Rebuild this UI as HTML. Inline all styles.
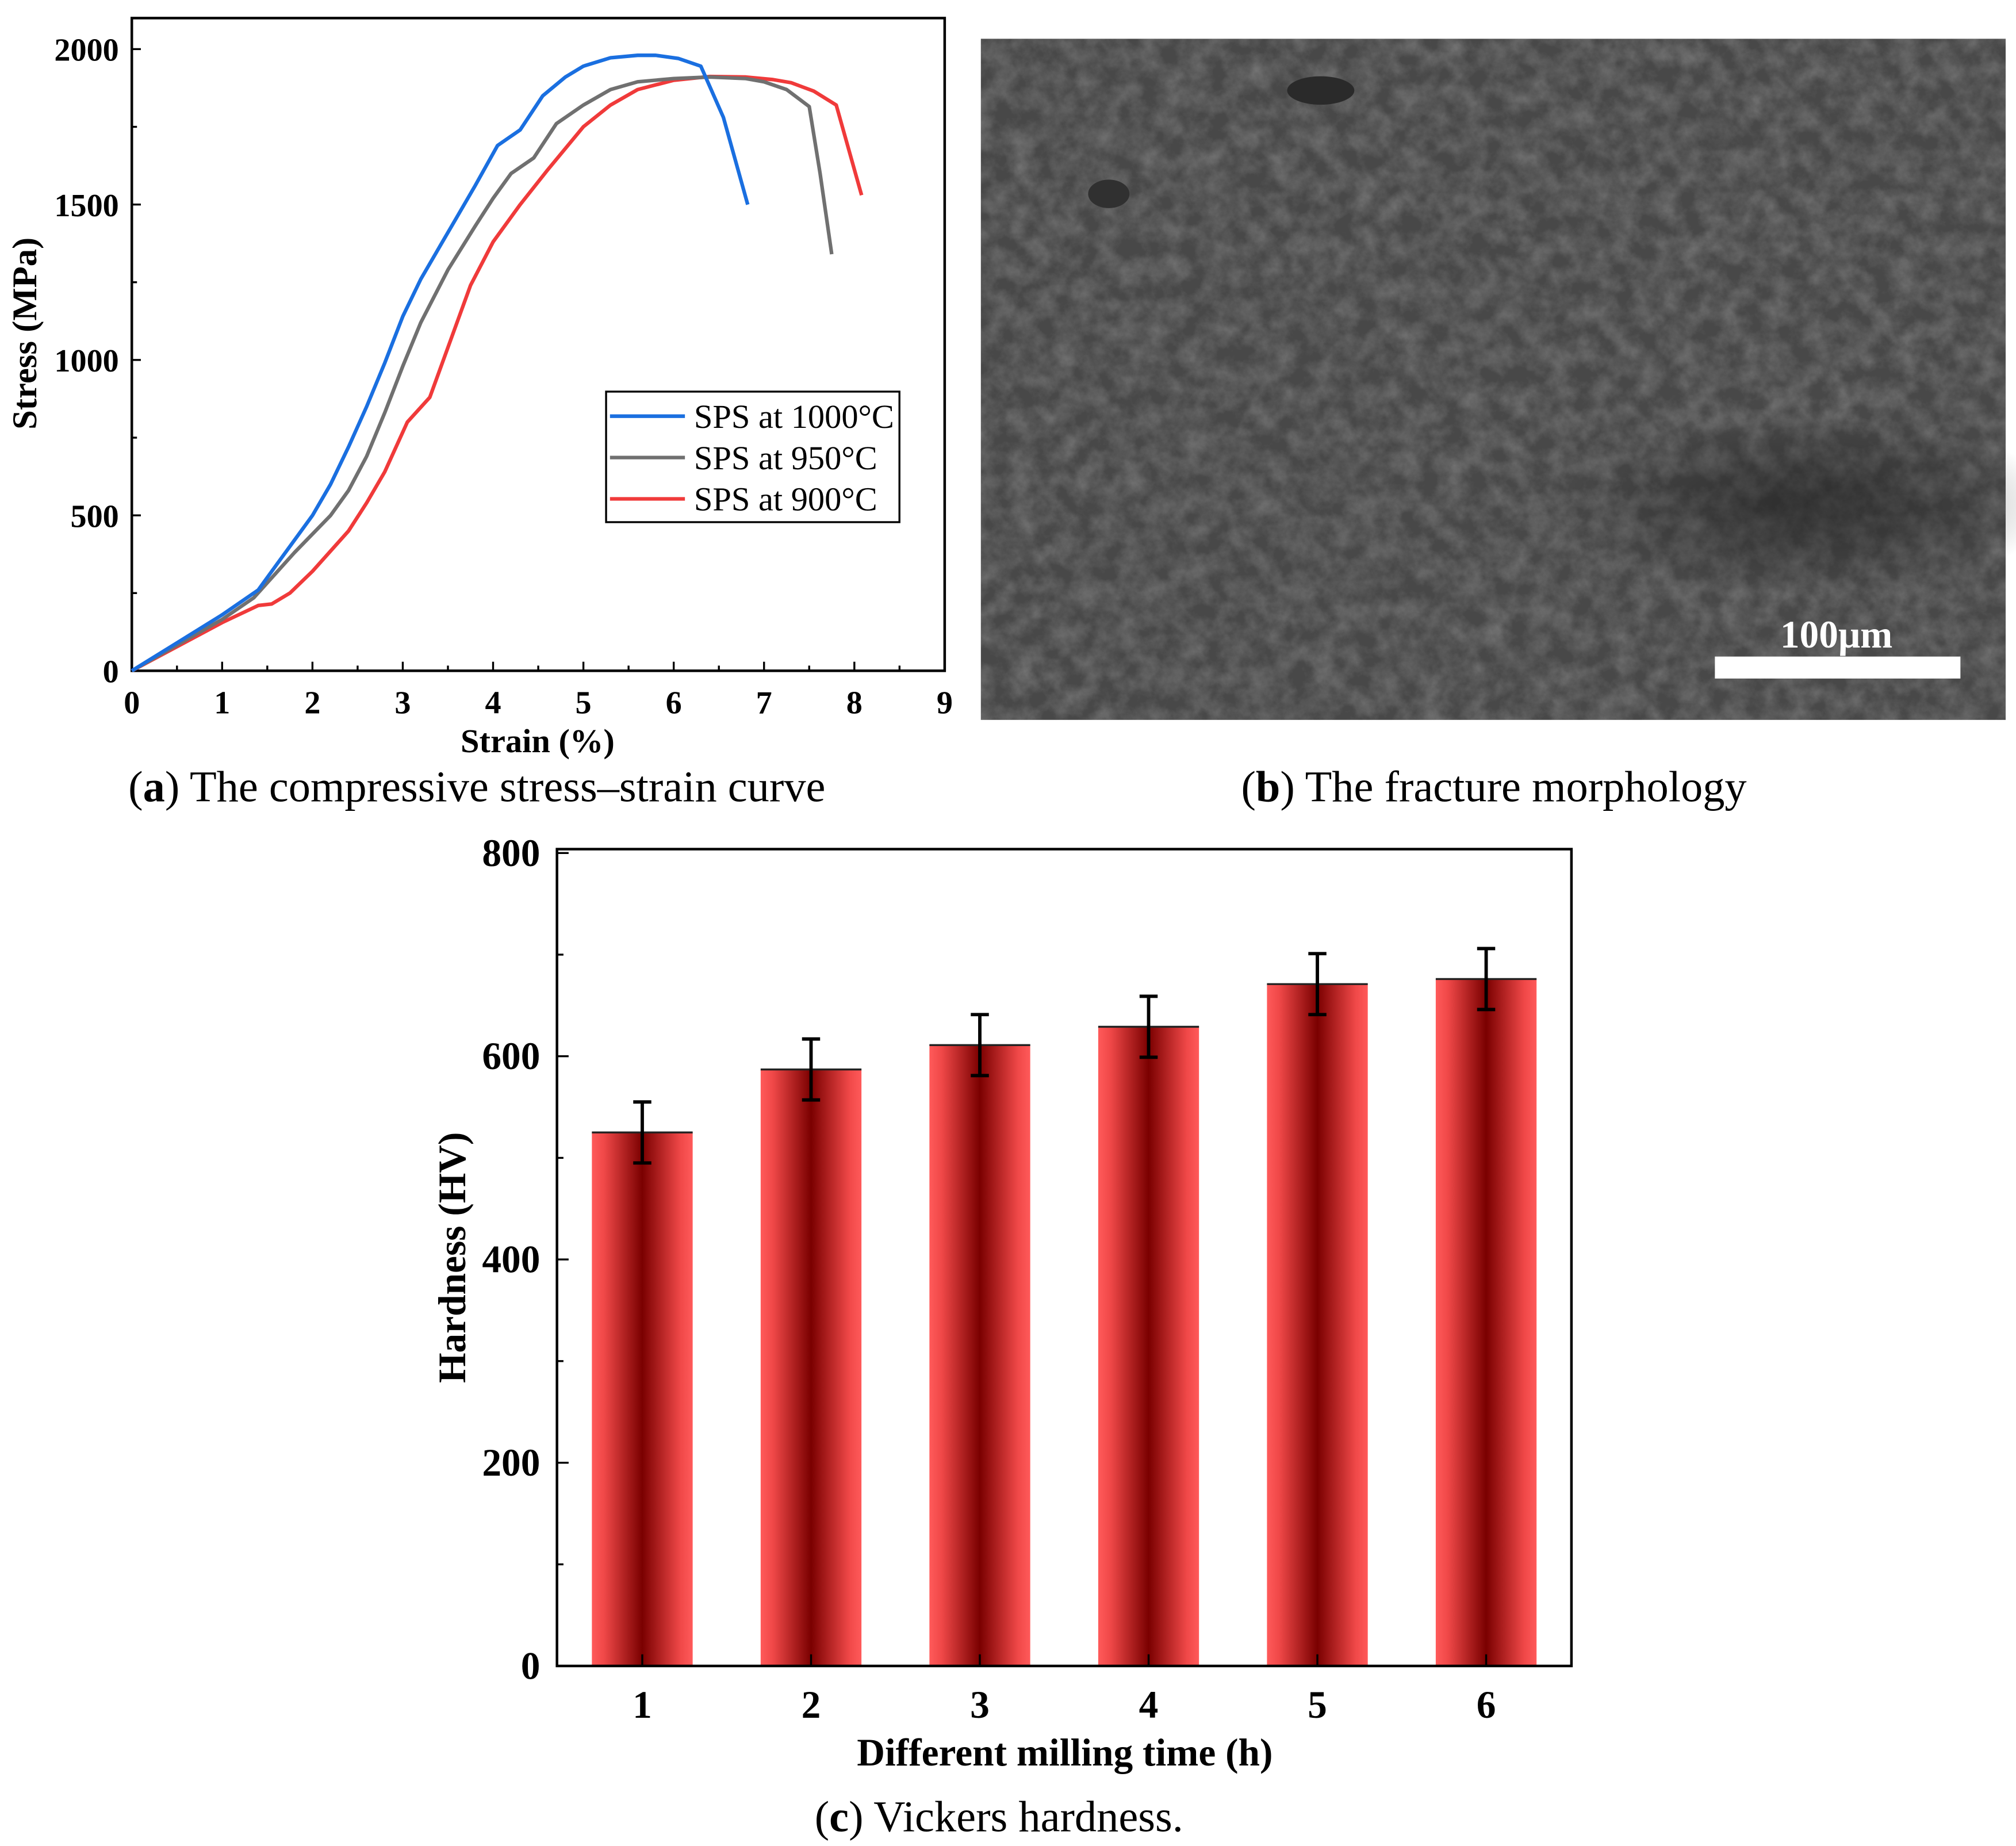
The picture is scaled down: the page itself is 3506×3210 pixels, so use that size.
<!DOCTYPE html>
<html><head><meta charset="utf-8"><style>
html,body{margin:0;padding:0;background:#fff}
svg{display:block}
text{font-family:"Liberation Serif",serif}
</style></head><body>
<svg id="root" width="3506" height="3210" viewBox="0 0 1560 1428.3">
<defs>
<linearGradient id="barg" x1="0" x2="1" y1="0" y2="0">
<stop offset="0" stop-color="#ff5a5a"/><stop offset="0.12" stop-color="#f04848"/><stop offset="0.5" stop-color="#7a0000"/><stop offset="0.88" stop-color="#f04848"/><stop offset="1" stop-color="#ff5a5a"/>
</linearGradient>
<filter id="sem" x="0" y="0" width="1" height="1">
<feTurbulence type="fractalNoise" baseFrequency="0.06" numOctaves="5" seed="7"/>
<feColorMatrix type="matrix" values="0 0 0 0 0.6  0 0 0 0 0.6  0 0 0 0 0.6  0.5 0 0 0 -0.15"/>
</filter>
<radialGradient id="dark" cx="0.5" cy="0.5" r="0.5"><stop offset="0" stop-color="#1a1a1a" stop-opacity="0.6"/><stop offset="1" stop-color="#1a1a1a" stop-opacity="0"/></radialGradient>
</defs>

<g id="pa"></g>
<text x="369" y="620" font-size="34" text-anchor="middle">(<tspan font-weight="bold">a</tspan>) The compressive stress–strain curve</text>

<g>
<rect x="759" y="30" width="793" height="527" fill="#484848"/>
<rect x="759" y="30" width="793" height="527" filter="url(#sem)"/>
<ellipse cx="1400" cy="390" rx="190" ry="70" fill="url(#dark)"/>
<ellipse cx="1022" cy="70" rx="26" ry="11" fill="#2a2a2a"/>
<ellipse cx="858" cy="150" rx="16" ry="11" fill="#303030"/>
<rect x="1327" y="508" width="190" height="17" fill="#fff"/>
<text x="1421" y="501" font-size="30" font-weight="bold" fill="#fff" text-anchor="middle">100μm</text>
</g>
<text x="1156" y="620" font-size="34" text-anchor="middle">(<tspan font-weight="bold">b</tspan>) The fracture morphology</text>

<g id="pc"></g>
<text x="773" y="1417" font-size="34" text-anchor="middle">(<tspan font-weight="bold">c</tspan>) Vickers hardness.</text>
</svg>
<script>
const NS="http://www.w3.org/2000/svg";
function mk(p,tag,at,txt){const e=document.createElementNS(NS,tag);for(const k in at)e.setAttribute(k,at[k]);if(txt!=null)e.textContent=txt;p.appendChild(e);return e;}

const xTicksA=[0,1,2,3,4,5,6,7,8,9];
const yTicksA=[0,500,1000,1500,2000];
const seriesNames=["SPS at 1000°C","SPS at 950°C","SPS at 900°C"];
const seriesColors=["#1a6fe0","#707070","#f03a3a"];
const strain1000=[0,0.5,1,1.4,1.6,2,2.2,2.4,2.6,2.8,3,3.2,3.4,3.6,3.8,4.05,4.3,4.55,4.8,5,5.3,5.6,5.8,6.05,6.3,6.55,6.82];
const stress1000=[0,90,180,260,340,500,600,720,850,990,1140,1260,1360,1460,1560,1690,1740,1850,1910,1945,1972,1980,1980,1970,1945,1780,1500];
const strain950=[0,1,1.35,1.8,2.2,2.4,2.6,2.8,3,3.2,3.5,3.8,4,4.2,4.45,4.7,5,5.3,5.6,6,6.4,6.8,7,7.25,7.5,7.62,7.75];
const stress950=[0,165,235,380,500,580,690,830,980,1120,1290,1430,1520,1600,1650,1760,1820,1870,1895,1905,1910,1905,1895,1870,1815,1600,1340];
const strain900=[0,1,1.4,1.55,1.75,2,2.4,2.6,2.8,3.05,3.3,3.5,3.75,4,4.3,4.6,5,5.3,5.6,6,6.4,6.8,7.1,7.3,7.55,7.8,8.08];
const stress900=[0,155,210,215,250,320,450,540,640,800,880,1040,1240,1380,1500,1610,1750,1820,1870,1900,1912,1910,1902,1892,1865,1820,1530];

const pa=document.getElementById('pa');
const AX0=102,AX1=731,AY0=519,AY1=14;
const ax=v=>AX0+v/9*(AX1-AX0);
const ay=v=>AY0-v/2000*(519-38);
mk(pa,'rect',{x:AX0,y:AY1,width:AX1-AX0,height:AY0-AY1,fill:'none',stroke:'#000','stroke-width':2});
for(let v=0;v<=9;v+=0.5){mk(pa,'line',{x1:ax(v),x2:ax(v),y1:AY0,y2:AY0-(v%1?4:7),stroke:'#000','stroke-width':1.5});}
xTicksA.forEach(v=>{const t=mk(pa,'text',{x:ax(v),y:552,'font-size':25,'font-weight':'bold','text-anchor':'middle'},v);

});
for(let v=0;v<=2000;v+=250){mk(pa,'line',{x1:AX0,x2:AX0+(v%500?4:7),y1:ay(v),y2:ay(v),stroke:'#000','stroke-width':1.5});}
yTicksA.forEach(v=>{const t=mk(pa,'text',{x:92,y:ay(v)+9,'font-size':25,'font-weight':'bold','text-anchor':'end'},v);

});
let tt=mk(pa,'text',{x:416,y:582,'font-size':26,'font-weight':'bold','text-anchor':'middle'},'Strain (%)');


tt=mk(pa,'text',{x:0,y:0,'font-size':27,'font-weight':'bold','text-anchor':'middle',transform:'translate(28,258) rotate(-90)'},'Stress (MPa)');


const sx=[strain1000,strain950,strain900],sy=[stress1000,stress950,stress900],keys=['1000','950','900'];
[2,1,0].forEach(i=>{const d=sx[i].map((x,j)=>(j?'L':'M')+ax(x).toFixed(1)+','+ay(sy[i][j]).toFixed(1)).join('');
const p=mk(pa,'path',{d:d,fill:'none',stroke:seriesColors[i],'stroke-width':2.8,'stroke-linejoin':'round'});

});
const lg=mk(pa,'g',{});


mk(lg,'rect',{x:469,y:303,width:227,height:101,fill:'#fff',stroke:'#000','stroke-width':1.5});
seriesNames.forEach((n,i)=>{const y=322+i*32;
mk(lg,'line',{x1:472,x2:530,y1:y,y2:y,stroke:seriesColors[i],'stroke-width':2.8});
const t=mk(lg,'text',{x:537,y:y+9,'font-size':26},n);

});

const categories=["1","2","3","4","5","6"];
const hardness=[525,587,611,629,671,676];
const hardnessErr=[30,30,30,30,30,30];
const yTicksC=[0,200,400,600,800];

const pc=document.getElementById('pc');
const CX0=431,CX1=1216,CY0=1289,CY1=657;
const cy=v=>CY0-v/800*(1289-660);
const cx=i=>497+i*130.6;
const BW=78;
hardness.forEach((v,i)=>{const r=mk(pc,'rect',{x:cx(i)-BW/2,y:cy(v),width:BW,height:CY0-cy(v),fill:'url(#barg)'});


mk(pc,'line',{x1:cx(i)-BW/2,x2:cx(i)+BW/2,y1:cy(v),y2:cy(v),stroke:'#222','stroke-width':1.5});
const e=mk(pc,'path',{d:`M${cx(i)},${cy(v+hardnessErr[i])}V${cy(v-hardnessErr[i])}M${cx(i)-7},${cy(v+hardnessErr[i])}h14M${cx(i)-7},${cy(v-hardnessErr[i])}h14`,stroke:'#000','stroke-width':2.6,fill:'none'});

});
mk(pc,'rect',{x:CX0,y:CY1,width:CX1-CX0,height:CY0-CY1,fill:'none',stroke:'#000','stroke-width':2});
for(let v=0;v<=800;v+=100){mk(pc,'line',{x1:CX0,x2:CX0+(v%200?5:9),y1:cy(v),y2:cy(v),stroke:'#000','stroke-width':1.5});}
yTicksC.forEach(v=>{const t=mk(pc,'text',{x:418,y:cy(v)+10,'font-size':30,'font-weight':'bold','text-anchor':'end'},v);

});
categories.forEach((c,i)=>{mk(pc,'line',{x1:cx(i),x2:cx(i),y1:CY0,y2:CY0-9,stroke:'#000','stroke-width':1.5});
const t=mk(pc,'text',{x:cx(i),y:1329,'font-size':30,'font-weight':'bold','text-anchor':'middle'},c);

});
tt=mk(pc,'text',{x:824,y:1366,'font-size':30,'font-weight':'bold','text-anchor':'middle'},'Different milling time (h)');


tt=mk(pc,'text',{x:0,y:0,'font-size':30,'font-weight':'bold','text-anchor':'middle',transform:'translate(360,973) rotate(-90)'},'Hardness (HV)');


</script>
</body></html>
